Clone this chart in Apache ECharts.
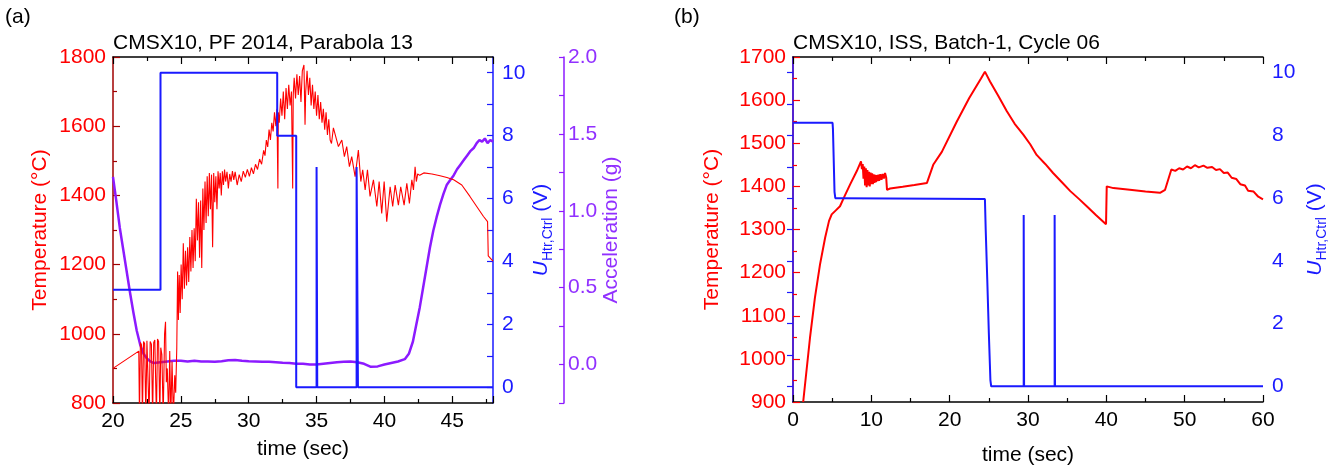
<!DOCTYPE html>
<html>
<head>
<meta charset="utf-8">
<script src="https://cdn.jsdelivr.net/npm/echarts@6/dist/echarts.min.js"></script>
<style>html,body{margin:0;padding:0;background:#fff}#c{width:1336px;height:471px}</style>
</head>
<body>
<div id="c"></div>
<script>
// ---------- DATA ----------
const titleA = 'CMSX10, PF 2014, Parabola 13';
const titleB = 'CMSX10, ISS, Batch-1, Cycle 06';
const voltLabels = [0, 2, 4, 6, 8, 10];
const voltTicks = [0, 1, 2, 3, 4, 5, 6, 7, 8, 9, 10];
const accLabels = [0, 0.5, 1.0, 1.5, 2.0];
const accTicks = [-0.25, 0, 0.25, 0.5, 0.75, 1.0, 1.25, 1.5, 1.75, 2.0];
const timeLabelsA = [20, 25, 30, 35, 40, 45];

// panel (a): temperature [time s, °C]
const tempA = [[20.0,900],[21.9,950],[21.95,760],[22.02,975],[22.10,968],[22.17,760],[22.25,978],[22.33,972],[22.42,760],[22.50,980],[22.58,975],[22.66,760],[22.74,978],[22.83,970],[22.92,760],[23.0,975],[23.08,982],[23.2,760],[23.28,985],[23.36,978],[23.45,760],[23.52,960],[23.6,940],[23.7,760],[23.8,1000],[23.87,1035],[23.93,860],[24.0,900],[24.1,760],[24.18,950],[24.26,760],[24.35,920],[24.45,760],[24.55,880],[24.62,830],
[24.70,960],[24.76,1180],[24.82,1040],[24.88,1170],[24.95,1060],[25.02,1200],[25.10,1100],[25.18,1262],[25.26,1130],[25.34,1240],[25.42,1140],[25.50,1250],[25.58,1150],[25.66,1280],[25.74,1180],[25.82,1300],[25.90,1190],[25.98,1305],[26.06,1210],[26.14,1390],[26.22,1270],[26.30,1380],[26.38,1220],[26.46,1385],[26.54,1190],[26.62,1420],[26.70,1300],[26.78,1440],[26.86,1320],[26.94,1455],[27.02,1340],[27.10,1465],[27.18,1360],[27.26,1460],[27.34,1250],[27.42,1465],[27.50,1380],[27.58,1455],[27.66,1360],[27.74,1470],[27.82,1420],[27.90,1465],[27.98,1400],[28.06,1470],[28.14,1430],[28.22,1475],[28.30,1440],[28.40,1468],[28.50,1420],[28.60,1462],[28.70,1440],[28.80,1470],[28.90,1445],[29.00,1468],[29.15,1430],[29.30,1460],[29.45,1440],[29.60,1470],[29.75,1452],[29.90,1475],[30.05,1455],[30.20,1480],[30.35,1462],[30.50,1490],[30.65,1475],[30.80,1505],[30.95,1490],[31.10,1530],[31.20,1515],[31.30,1560],[31.40,1540],[31.50,1590],[31.60,1560],[31.70,1610],[31.80,1585],[31.90,1640],[32.00,1600],[32.08,1650],[32.15,1420],[32.18,1640],[32.25,1610],[32.35,1680],[32.45,1630],[32.55,1700],[32.65,1620],[32.75,1710],[32.85,1650],[32.95,1720],[33.05,1660],[33.15,1700],[33.24,1420],[33.28,1690],[33.35,1740],[33.45,1680],[33.55,1750],[33.65,1690],[33.75,1745],[33.85,1670],[33.95,1760],[34.07,1777],[34.15,1604],[34.20,1700],[34.30,1760],[34.40,1690],[34.50,1740],[34.60,1660],[34.70,1720],[34.80,1650],[34.90,1700],[35.00,1630],[35.10,1690],[35.20,1620],[35.30,1670],[35.40,1610],[35.50,1650],[35.60,1590],[35.70,1640],[35.80,1575],[35.90,1620],[36.00,1560],[36.10,1550],[36.24,1595],[36.61,1541],[36.86,1560],[37.05,1512],[37.22,1541],[37.42,1483],[37.59,1512],[37.84,1454],[38.08,1531],[38.26,1440],[38.40,1474],[38.58,1416],[38.75,1474],[38.94,1397],[39.19,1445],[39.44,1368],[39.61,1440],[39.80,1348],[39.98,1440],[40.17,1324],[40.42,1425],[40.61,1368],[40.79,1430],[41.03,1372],[41.20,1425],[41.45,1372],[41.65,1435],[41.84,1377],[42.02,1445],[42.14,1416],[42.26,1483],[42.35,1440],[42.45,1462],[42.6,1458],[42.9,1465],[43.5,1462],[44.1,1457],[44.6,1452],[45.1,1445],[45.7,1430],[46.3,1397],[46.8,1368],[47.3,1339],[47.6,1324],[47.65,1225],[48.0,1210]];

// panel (a): heater control voltage [time s, V]
const voltA = [[20,3.1],[23.5,3.1],[23.5,10.0],[32.1,10.0],[32.1,8.0],[33.5,8.0],[33.5,0],[35.0,0],[35.0,7.0],[35.05,7.0],[35.05,0],[37.95,0],[37.95,7.0],[38.05,7.0],[38.05,0],[48,0]];

// panel (a): acceleration [time s, g]
const accA = [[20.0,1.22],[20.25,1.06],[20.5,0.89],[20.75,0.75],[21.0,0.61],[21.25,0.47],[21.5,0.34],[21.75,0.22],[22.0,0.13],[22.25,0.07],[22.5,0.04],[22.75,0.02],[23.0,0.01],[23.5,0.015],[24.0,0.02],[24.5,0.025],[25.0,0.025],[25.5,0.02],[26.0,0.025],[26.5,0.02],[27.0,0.02],[27.5,0.018],[28.0,0.022],[28.5,0.028],[29.0,0.03],[29.5,0.025],[30.0,0.022],[30.5,0.02],[31.0,0.018],[31.5,0.018],[32.0,0.015],[32.5,0.012],[33.0,0.01],[33.5,0.005],[34.0,0.005],[34.5,0.0],[35.0,0.0],[35.5,0.005],[36.0,0.01],[36.5,0.015],[37.0,0.018],[37.5,0.02],[38.0,0.015],[38.5,0.005],[39.0,-0.015],[39.5,-0.012],[40.0,0.0],[40.5,0.01],[41.0,0.02],[41.5,0.035],[41.8,0.07],[42.1,0.15],[42.35,0.26],[42.6,0.37],[42.85,0.50],[43.1,0.63],[43.35,0.76],[43.6,0.87],[43.85,0.96],[44.1,1.04],[44.35,1.11],[44.6,1.17],[44.85,1.20],[45.1,1.23],[45.35,1.27],[45.6,1.30],[45.85,1.33],[46.1,1.36],[46.35,1.39],[46.6,1.41],[46.8,1.44],[47.0,1.46],[47.2,1.45],[47.4,1.47],[47.6,1.44],[47.8,1.46],[48.0,1.45]];

// panel (b): temperature [time s, °C]
const tempB = [[1.3,900],[2.17,1049],[2.8,1142],[3.45,1219],[4.1,1281],[4.6,1320],[4.94,1335],[5.5,1345],[6.0,1354],[6.6,1378],[7.28,1404],[8.13,1435],[8.68,1458],[8.8,1440],[8.9,1452],[9.0,1418],[9.1,1446],[9.2,1402],[9.3,1442],[9.4,1398],[9.5,1438],[9.6,1402],[9.7,1434],[9.8,1400],[9.9,1432],[10.0,1405],[10.1,1430],[10.2,1405],[10.3,1428],[10.4,1408],[10.5,1427],[10.6,1410],[10.7,1426],[10.8,1412],[10.9,1427],[11.0,1413],[11.15,1428],[11.3,1415],[11.45,1429],[11.6,1418],[11.75,1431],[11.9,1420],[12.0,1392],[12.4,1395],[14.0,1399],[15.5,1403],[17.1,1408],[17.9,1450],[19.0,1480],[20.9,1550],[22.5,1605],[24.0,1650],[24.5,1666],[25.15,1643],[26.2,1610],[27.3,1574],[28.3,1545],[29.4,1520],[30.3,1497],[31.1,1473],[32.2,1452],[33.2,1431],[34.3,1410],[35.4,1389],[36.5,1371],[37.5,1354],[38.7,1333],[39.96,1312],[40.05,1400],[40.9,1396],[43.0,1392],[45.0,1388],[46.85,1385],[47.5,1392],[48.3,1439],[48.8,1436],[49.3,1442],[49.8,1439],[50.3,1446],[50.8,1442],[51.3,1449],[51.8,1444],[52.4,1448],[52.9,1443],[53.5,1445],[54.0,1438],[54.5,1440],[55.0,1431],[55.5,1432],[56.0,1420],[56.6,1417],[57.1,1405],[57.7,1402],[58.1,1390],[58.8,1388],[59.4,1376],[60,1370]];

// panel (b): heater control voltage [time s, V]
const voltB = [[0,8.4],[5.05,8.4],[5.1,8.2],[5.2,7.2],[5.3,6.2],[5.4,6.0],[6.2,6.0],[6.25,5.97],[24.5,5.97],[24.6,5.0],[24.8,3.4],[25.0,1.7],[25.2,0.2],[25.3,0],[29.45,0],[29.45,5.46],[29.5,5.46],[29.5,0],[33.4,0],[33.4,5.46],[33.45,5.46],[33.45,0],[60,0]];

// ---------- STYLE ----------
const RED = '#ff0000', DRED = '#a00000', BLUE = '#1a1aff', PUR = '#8c1aff', PURT = '#9130ff';
const FONT = 'Liberation Sans, Arial, sans-serif';
const FS = 21;

function xAx(gi, min, max, iv, pos, nameGap) {
  const top = pos === 'top';
  return {
    type: 'value', gridIndex: gi, position: pos, min, max, interval: iv,
    name: top ? '' : 'time (sec)', nameLocation: 'middle', nameGap,
    nameTextStyle: {color: '#000', fontSize: FS, fontFamily: FONT},
    axisLine: {show: true, onZero: false, lineStyle: {color: '#000', width: 1.5}},
    axisTick: {show: true, inside: true, length: 7, lineStyle: {color: '#000', width: 1.2}},
    minorTick: {show: true, splitNumber: 2, length: 4, lineStyle: {color: '#000', width: 1.2}},
    axisLabel: {show: !top, color: '#000', fontSize: FS, fontFamily: FONT, margin: 8, showMaxLabel: max === 60, formatter: v => String(v)},
    splitLine: {show: false}
  };
}
function voltAx(gi, gap) {
  return {
    type: 'value', gridIndex: gi, position: 'right', min: -0.5, max: 10.5, nameGap: gap,
    name: '{u|U}{s|Htr,Ctrl}{v| (V)}', nameLocation: 'middle',
    nameTextStyle: {color: BLUE, fontSize: FS, fontFamily: FONT, rich: {
      u: {color: BLUE, fontSize: FS, fontStyle: 'italic', fontFamily: FONT},
      s: {color: BLUE, fontSize: 14, fontFamily: FONT, verticalAlign: 'top', padding: [13, 0, 0, 0]},
      v: {color: BLUE, fontSize: FS, fontFamily: FONT}
    }},
    axisLine: {show: true, lineStyle: {color: BLUE, width: 1.5}},
    axisTick: {show: true, inside: true, length: 6, customValues: voltTicks, lineStyle: {color: BLUE, width: 1.2}},
    axisLabel: {color: BLUE, fontSize: FS, fontFamily: FONT, margin: 9, customValues: voltLabels, formatter: v => String(v)},
    splitLine: {show: false}
  };
}
function tempAx(gi, min, max, iv, lineColor, gap) {
  return {
    type: 'value', gridIndex: gi, position: 'left', min, max, interval: iv,
    name: 'Temperature (°C)', nameLocation: 'middle', nameGap: gap,
    nameTextStyle: {color: RED, fontSize: FS, fontFamily: FONT},
    axisLine: {show: true, lineStyle: {color: lineColor, width: 1.5}},
    axisTick: {show: true, inside: true, length: 7, lineStyle: {color: lineColor, width: 1.2}},
    minorTick: {show: true, splitNumber: 2, length: 4, lineStyle: {color: lineColor, width: 1.2}},
    axisLabel: {color: RED, fontSize: FS, fontFamily: FONT, margin: 7, formatter: v => String(v)},
    splitLine: {show: false}
  };
}
const tStyle = {fontSize: FS, fontWeight: 'normal', color: '#000', fontFamily: FONT};

const option = {
  animation: false,
  backgroundColor: '#fff',
  title: [
    {text: '(a)', left: 5, top: 7, padding: 0, textStyle: tStyle},
    {text: titleA, left: 113, top: 33, padding: 0, textStyle: tStyle},
    {text: '(b)', left: 674, top: 7, padding: 0, textStyle: tStyle},
    {text: titleB, left: 793, top: 33, padding: 0, textStyle: tStyle}
  ],
  grid: [
    {left: 113, top: 57, width: 380, height: 346, containLabel: false},
    {left: 793, top: 57, width: 470, height: 346, containLabel: false}
  ],
  xAxis: [
    xAx(0, 20, 48, 5, 'bottom', 36),
    xAx(0, 20, 48, 5, 'top', 0),
    xAx(1, 0, 60, 10, 'bottom', 43),
    xAx(1, 0, 60, 10, 'top', 0)
  ],
  yAxis: [
    tempAx(0, 800, 1800, 200, DRED, 62),
    voltAx(0, 35),
    {
      type: 'value', gridIndex: 0, position: 'right', offset: 71, min: -0.25, max: 2.0,
      name: 'Acceleration (g)', nameLocation: 'middle', nameGap: 34,
      nameTextStyle: {color: PURT, fontSize: FS, fontFamily: FONT},
      axisLine: {show: true, lineStyle: {color: PUR, width: 1.5}},
      axisTick: {show: true, inside: true, length: 5, customValues: accTicks, lineStyle: {color: PUR, width: 1.2}},
      axisLabel: {color: PURT, fontSize: FS, fontFamily: FONT, margin: 4, customValues: accLabels,
        formatter: v => Number(v).toFixed(1)},
      splitLine: {show: false}
    },
    tempAx(1, 900, 1700, 100, RED, 70),
    voltAx(1, 39)
  ],
  series: [
    {type: 'line', xAxisIndex: 0, yAxisIndex: 0, data: tempA, showSymbol: false, lineStyle: {color: RED, width: 1.1}, z: 3},
    {type: 'line', xAxisIndex: 0, yAxisIndex: 1, data: voltA, showSymbol: false, lineStyle: {color: BLUE, width: 2}, z: 4},
    {type: 'line', xAxisIndex: 0, yAxisIndex: 2, data: accA, showSymbol: false, lineStyle: {color: PUR, width: 2.5}, z: 2},
    {type: 'line', xAxisIndex: 2, yAxisIndex: 3, data: tempB, showSymbol: false, lineStyle: {color: RED, width: 2}, z: 3},
    {type: 'line', xAxisIndex: 2, yAxisIndex: 4, data: voltB, showSymbol: false, lineStyle: {color: BLUE, width: 2}, z: 4}
  ]
};
const chart = echarts.init(document.getElementById('c'), null, {renderer: 'canvas'});
chart.setOption(option);
</script>
</body>
</html>
